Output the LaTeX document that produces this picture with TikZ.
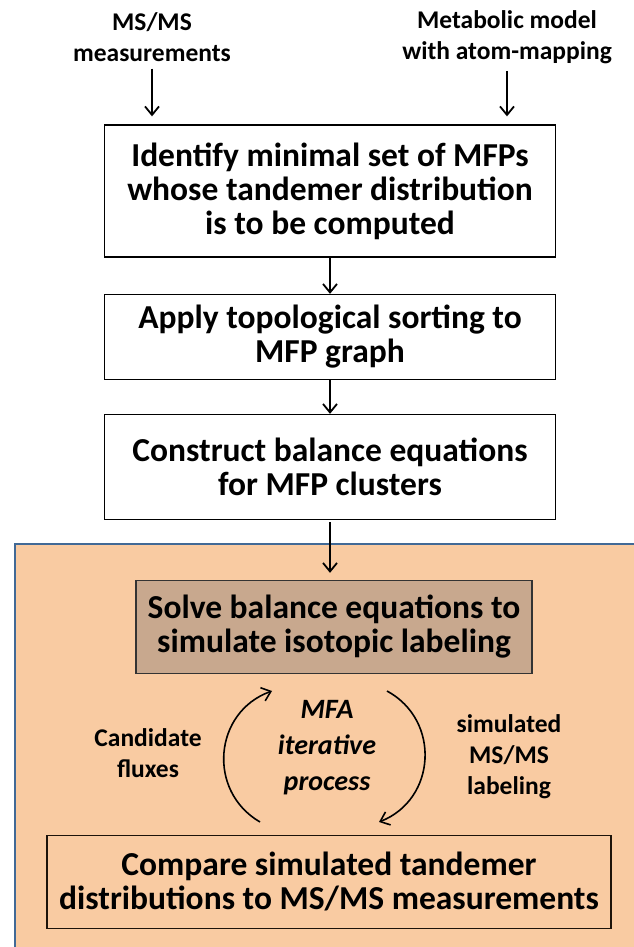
\documentclass[tikz,border=0pt]{standalone}
\usepackage{fontspec}
\setmainfont{Carlito}
\usetikzlibrary{arrows.meta,positioning}
\definecolor{peach}{RGB}{249,203,162}
\definecolor{tanbox}{RGB}{200,168,142}
\definecolor{frameblue}{RGB}{65,105,150}
\tikzset{stepbox/.style={rectangle,draw=black,line width=1.3pt,inner sep=0pt,align=center,font=\fontsize{33.5}{34}\selectfont\bfseries}}
\tikzset{lbl/.style={align=center,inner sep=0pt,font=\fontsize{25.5}{31}\selectfont\bfseries}}

\begin{document}
\begin{tikzpicture}[x=1pt,y=1pt,>={Straight Barb[length=8.5pt,width=14pt]}]
\useasboundingbox (0,0) rectangle (634,947);
% shaded MFA region
\fill[peach] (15,403) rectangle (645,-5);
\draw[frameblue,line width=1.5pt] (15,-5) -- (15,403) -- (645,403);
%
\node (ms) [lbl] at (152,910) {MS/MS\\measurements};
\node (model) [lbl] at (507,910) {Metabolic model\\with atom-mapping};
%
\node (id) [stepbox,minimum width=451,minimum height=132] at (330,756)
  {Identify minimal set of MFPs\\whose tandemer distribution\\is to be computed};
\node (topo) [stepbox,minimum width=451,minimum height=85] at (330,610)
  {Apply topological sorting to\\MFP graph};
\node (bal) [stepbox,minimum width=451,minimum height=105] at (330,480)
  {Construct balance equations\\for MFP clusters};
\node (solve) [stepbox,fill=tanbox,draw=black!80,minimum width=396,minimum height=93] at (334,320)
  {Solve balance equations to\\simulate isotopic labeling};
\node (comp) [stepbox,draw=black!85!brown,minimum width=564,minimum height=93] at (329,65)
  {Compare simulated tandemer\\distributions to MS/MS measurements};
%
\node (mfa) [lbl,font=\fontsize{28}{36}\selectfont\bfseries\itshape] at (327,199) {MFA\\iterative\\process};
\node (cand) [lbl] at (148,194) {Candidate\\fluxes};
\node (sim) [lbl] at (509,190) {simulated\\MS/MS\\labeling};
%
\path[->,line width=1.8pt,shorten <=7pt,shorten >=8pt] (ms) edge (ms |- id.north);
\path[->,line width=1.8pt,shorten <=7pt,shorten >=8pt] (model) edge (model |- id.north);
\path[->,line width=1.8pt] (id) edge (topo);
\path[->,line width=1.8pt] (topo) edge (bal);
\path[->,line width=1.8pt,shorten <=2pt,shorten >=7pt] (bal.south) edge (bal.south |- solve.north);
%
\coordinate (l1) at (260,125);
\coordinate (l2) at (272,256);
\coordinate (r1) at (387,256);
\coordinate (r2) at (379,125);
\path[->,line width=1.6pt,bend left=65,looseness=1.2] (l1) edge (l2);
\path[->,line width=1.6pt,bend left=65,looseness=1.2] (r1) edge (r2);
\end{tikzpicture}
\end{document}
